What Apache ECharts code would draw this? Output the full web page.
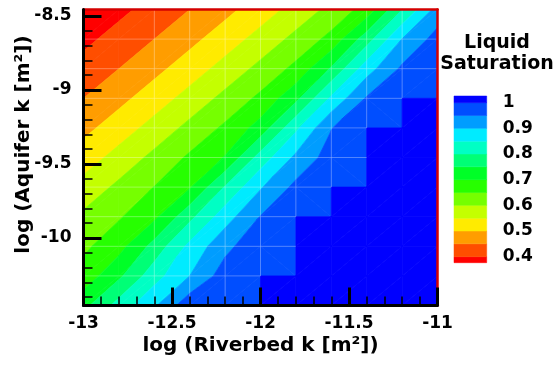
<!DOCTYPE html>
<html>
<head>
<meta charset="utf-8">
<script src="https://cdn.jsdelivr.net/npm/echarts@6/dist/echarts.min.js"></script>
<style>
  html, body { margin: 0; padding: 0; background: #ffffff; }
  #chart { width: 560px; height: 372px; }
</style>
</head>
<body>
<div id="chart"></div>
<script>
// Mesh nodes (log10 permeability)
const riverbedLogK = [-13, -12.8, -12.6, -12.4, -12.2, -12, -11.8, -11.6, -11.4, -11.2, -11];
const aquiferLogK = [-8.456, -8.656, -8.856, -9.056, -9.256, -9.456, -9.656, -9.856, -10.056, -10.256, -10.456];

// Liquid saturation at the nodes, one row per aquifer value (highest aquifer k first)
const satRow0  = [0.360, 0.388, 0.418, 0.450, 0.486, 0.525, 0.568, 0.614, 0.670, 0.799, 0.919];
const satRow1  = [0.388, 0.418, 0.450, 0.486, 0.525, 0.568, 0.614, 0.665, 0.777, 0.901, 0.970];
const satRow2  = [0.418, 0.450, 0.486, 0.525, 0.568, 0.614, 0.663, 0.756, 0.878, 0.959, 0.995];
const satRow3  = [0.450, 0.486, 0.525, 0.568, 0.614, 0.661, 0.737, 0.859, 0.955, 1, 1];
const satRow4  = [0.486, 0.525, 0.568, 0.614, 0.659, 0.720, 0.840, 0.948, 1, 1, 1];
const satRow5  = [0.525, 0.568, 0.613, 0.658, 0.703, 0.821, 0.911, 0.973, 1, 1, 1];
const satRow6  = [0.568, 0.611, 0.651, 0.695, 0.804, 0.895, 0.963, 1, 1, 1, 1];
const satRow7  = [0.610, 0.645, 0.689, 0.786, 0.878, 0.952, 1, 1, 1, 1, 1];
const satRow8  = [0.640, 0.682, 0.768, 0.863, 0.936, 0.988, 1, 1, 1, 1, 1];
const satRow9  = [0.670, 0.740, 0.830, 0.900, 0.975, 1, 1, 1, 1, 1, 1];
const satRow10 = [0.735, 0.820, 0.893, 0.985, 0.998, 1, 1, 1, 1, 1, 1];
const saturation = [satRow0, satRow1, satRow2, satRow3, satRow4, satRow5,
                    satRow6, satRow7, satRow8, satRow9, satRow10];

// Contour levels and flood colours (lowest band first)
const contourLevels = [0.4, 0.45, 0.5, 0.55, 0.6, 0.65, 0.7, 0.75, 0.8, 0.85, 0.9, 0.95, 1.0];
const bandColors = ['#ff0000', '#ff4e00', '#ff9d00', '#ffeb00', '#c4ff00', '#76ff00', '#27ff00',
                    '#00ff27', '#00ff76', '#00ffc4', '#00ebff', '#009dff', '#004eff', '#0000ff'];

// Axis ticks
const yMajorTicks = [-10, -9.5, -9, -8.5];
const yMinorTicks = [-10.4, -10.3, -10.2, -10.1, -9.9, -9.8, -9.7, -9.6,
                     -9.4, -9.3, -9.2, -9.1, -8.9, -8.8, -8.7, -8.6];
const legendTicks = [0.4, 0.5, 0.6, 0.7, 0.8, 0.9, 1.0];
const legendRange = [0.3766, 1.026];

const FONT = '"DejaVu Sans", "Liberation Sans", sans-serif';
const AXIS_RED = '#d40000';

// Keep the part of a polygon (vertices [x, y, s]) above or below a level
function clipPoly(poly, level, keepAbove) {
  const out = [];
  const n = poly.length;
  for (let a = 0; a < n; a++) {
    const P = poly[a], Q = poly[(a + 1) % n];
    const inP = keepAbove ? P[2] >= level : P[2] < level;
    const inQ = keepAbove ? Q[2] >= level : Q[2] < level;
    if (inP) out.push(P);
    if (inP !== inQ) {
      const t = (level - P[2]) / (Q[2] - P[2]);
      out.push([P[0] + t * (Q[0] - P[0]), P[1] + t * (Q[1] - P[1]), level]);
    }
  }
  return out;
}

function polyArea(pts) {
  let a = 0;
  for (let k = 0; k < pts.length; k++) {
    const p = pts[k], q = pts[(k + 1) % pts.length];
    a += p[0] * q[1] - q[0] * p[1];
  }
  return Math.abs(a) / 2;
}

// One item per mesh cell
const cellData = [];
for (let cj = 0; cj < aquiferLogK.length - 1; cj++) {
  for (let ci = 0; ci < riverbedLogK.length - 1; ci++) {
    cellData.push([riverbedLogK[ci], aquiferLogK[cj], ci, cj]);
  }
}

function renderCell(params, api) {
  const ci = api.value(2), cj = api.value(3);
  const node = (i, j) => [riverbedLogK[i], aquiferLogK[j], saturation[j][i]];
  const tl = node(ci, cj), tr = node(ci + 1, cj), bl = node(ci, cj + 1), br = node(ci + 1, cj + 1);
  const nSat = [tl, tr, bl, br].filter(c => c[2] >= 1).length;
  // split along the contour direction, unless that would leave a saturated
  // triangle in a cell whose upper-left node is still unsaturated
  const triangles = (nSat === 3 && tl[2] < 1)
    ? [[tl, tr, br], [tl, br, bl]]
    : [[tl, tr, bl], [tr, br, bl]];
  const children = [];
  triangles.forEach(tri => {
    for (let b = 0; b < bandColors.length; b++) {
      let poly = tri;
      if (b > 0) poly = clipPoly(poly, contourLevels[b - 1], true);
      if (poly.length >= 3 && b < contourLevels.length) poly = clipPoly(poly, contourLevels[b], false);
      if (poly.length < 3) continue;
      const pts = poly.map(p => api.coord([p[0], p[1]]));
      if (polyArea(pts) < 0.02) continue;
      children.push({
        type: 'polygon',
        shape: { points: pts },
        style: { fill: bandColors[b], stroke: bandColors[b], lineWidth: 0.7 },
        z2: 1
      });
    }
  });
  // faint mesh seams on cells that are not fully saturated
  if (nSat < 4) {
    const seam = { stroke: 'rgba(255,255,255,0.3)', lineWidth: 1, fill: null };
    if (cj > 0) {
      children.push({ type: 'polyline', shape: { points: [api.coord([tl[0], tl[1]]), api.coord([tr[0], tr[1]])] }, style: seam, z2: 5 });
    }
    if (ci > 1) {
      children.push({ type: 'polyline', shape: { points: [api.coord([tl[0], tl[1]]), api.coord([bl[0], bl[1]])] }, style: seam, z2: 5 });
    }
  }
  return { type: 'group', children: children };
}

// Colour key bands
const legendEdges = [legendRange[0]].concat(contourLevels, [legendRange[1]]);
const legendData = bandColors.map((c, b) => [legendEdges[b], legendEdges[b + 1], b]);

function renderKey(params, api) {
  const lo = api.value(0), hi = api.value(1), b = api.value(2);
  const p1 = api.coord([0, hi]);
  const p2 = api.coord([1, lo]);
  return {
    type: 'rect',
    shape: { x: p1[0], y: p1[1], width: p2[0] - p1[0], height: p2[1] - p1[1] },
    style: { fill: bandColors[b], stroke: bandColors[b], lineWidth: 0.5 }
  };
}

const labelStyle = { color: '#000', fontFamily: FONT, fontWeight: 'bold', fontSize: 17 };
const nameStyle = { color: '#000', fontFamily: FONT, fontWeight: 'bold', fontSize: 20 };

const option = {
  animation: false,
  backgroundColor: '#ffffff',
  grid: [
    { left: 83.5, top: 9.5, width: 354, height: 296, containLabel: false, outerBoundsMode: 'none' },
    { left: 454, top: 96, width: 32.7, height: 166.7, containLabel: false, outerBoundsMode: 'none' }
  ],
  xAxis: [
    {
      gridIndex: 0, type: 'value', min: -13, max: -11, interval: 0.5, position: 'bottom', z: 12,
      axisLine: { onZero: false, lineStyle: { color: '#000', width: 3 } },
      axisTick: { inside: true, length: 18, lineStyle: { color: '#000', width: 3 } },
      minorTick: { show: true, splitNumber: 5, length: 9, lineStyle: { color: '#000', width: 1.5 } },
      axisLabel: Object.assign({ margin: 10 }, labelStyle),
      splitLine: { show: false },
      name: 'log (Riverbed k [m²])', nameLocation: 'middle', nameGap: 30, nameMoveOverlap: false,
      nameTextStyle: nameStyle
    },
    {
      gridIndex: 0, type: 'value', min: -13, max: -11, position: 'top', z: 11,
      axisLine: { onZero: false, lineStyle: { color: AXIS_RED, width: 2.5 } },
      axisTick: { show: false }, axisLabel: { show: false }, splitLine: { show: false }
    },
    { gridIndex: 1, type: 'value', min: 0, max: 1, show: false }
  ],
  yAxis: [
    {
      gridIndex: 0, type: 'value', min: -10.456, max: -8.456, position: 'left', z: 12,
      axisLine: { onZero: false, lineStyle: { color: '#000', width: 3 } },
      axisTick: { inside: true, length: 18, customValues: yMajorTicks, lineStyle: { color: '#000', width: 3 } },
      axisLabel: Object.assign({ margin: 12, customValues: yMajorTicks, formatter: v => String(v) }, labelStyle),
      splitLine: { show: false },
      name: 'log (Aquifer k [m²])', nameLocation: 'middle', nameGap: 50, nameRotate: 90, nameMoveOverlap: false,
      nameTextStyle: Object.assign({ padding: [0, 0, 0, 26] }, nameStyle)
    },
    {
      gridIndex: 0, type: 'value', min: -10.456, max: -8.456, position: 'left', z: 11,
      axisLine: { show: false },
      axisTick: { inside: true, length: 9, customValues: yMinorTicks, lineStyle: { color: '#000', width: 1.5 } },
      axisLabel: { show: false }, splitLine: { show: false }
    },
    {
      gridIndex: 0, type: 'value', min: -10.456, max: -8.456, position: 'right', z: 11,
      axisLine: { onZero: false, lineStyle: { color: AXIS_RED, width: 2.5 } },
      axisTick: { show: false }, axisLabel: { show: false }, splitLine: { show: false }
    },
    {
      gridIndex: 1, type: 'value', min: legendRange[0], max: legendRange[1], position: 'right',
      axisLine: { show: false }, axisTick: { show: false }, splitLine: { show: false },
      axisLabel: Object.assign({
        margin: 16, customValues: legendTicks, padding: [5, 0, 0, 0],
        formatter: v => String(Math.round(v * 10) / 10)
      }, labelStyle)
    }
  ],
  graphic: [
    {
      type: 'text', x: 497, y: 32,
      style: {
        text: 'Liquid\nSaturation', fill: '#000', textAlign: 'center',
        fontFamily: FONT, fontWeight: 'bold', fontSize: 19, lineHeight: 21.5
      }
    }
  ],
  series: [
    {
      type: 'custom', name: 'Liquid Saturation', coordinateSystem: 'cartesian2d',
      xAxisIndex: 0, yAxisIndex: 0, silent: true,
      encode: { x: 0, y: 1 },
      data: cellData,
      renderItem: renderCell
    },
    {
      type: 'custom', name: 'key', coordinateSystem: 'cartesian2d',
      xAxisIndex: 2, yAxisIndex: 3, silent: true,
      encode: { x: 2, y: 0 },
      data: legendData,
      renderItem: renderKey
    }
  ]
};

const chart = echarts.init(document.getElementById('chart'), null, { renderer: 'canvas' });
chart.setOption(option);
</script>
</body>
</html>
